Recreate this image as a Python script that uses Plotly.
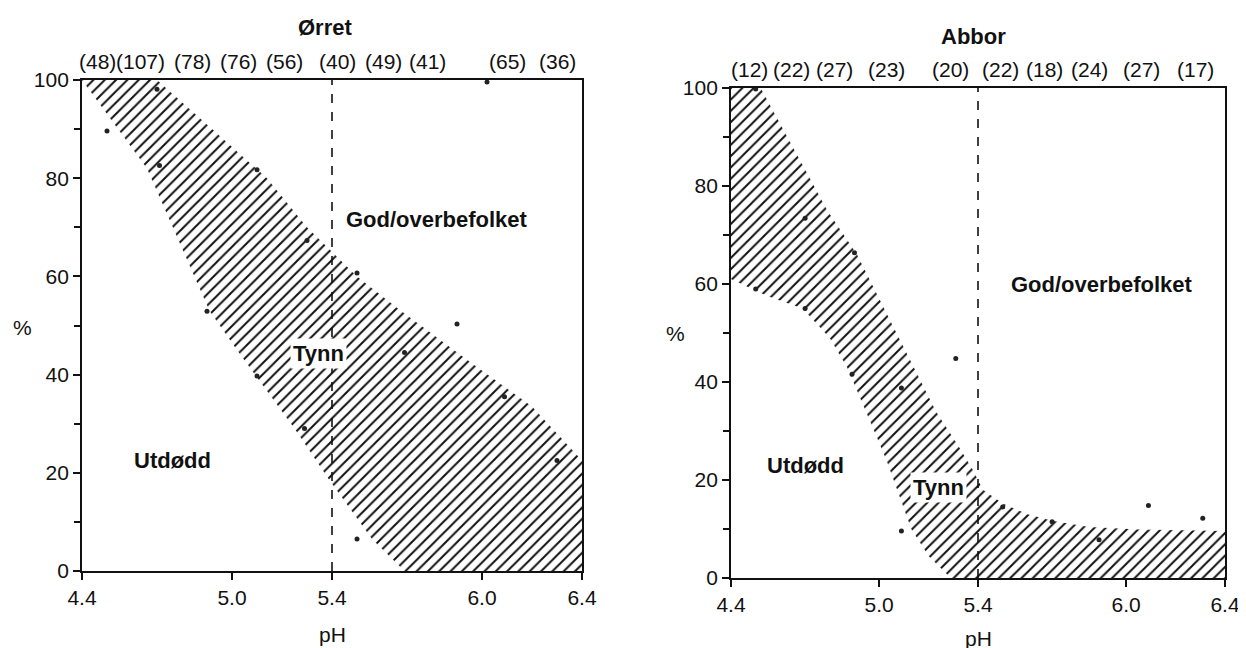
import plotly.graph_objects as go

# ---------------- data ----------------
# Ørret (trout)
trout_ph = [4.50, 4.70, 4.71, 4.90, 5.10, 5.10, 5.30, 5.29, 5.50, 5.50, 5.69, 5.90, 6.02, 6.09, 6.30]
trout_pct = [89.6, 98.1, 82.6, 52.9, 81.7, 39.7, 67.3, 29.0, 60.7, 6.5, 44.5, 50.3, 99.6, 35.5, 22.5]
trout_n = ["(48)", "(107)", "(78)", "(76)", "(56)", "(40)", "(49)", "(41)", "(65)", "(36)"]
trout_n_ph = [4.46, 4.635, 4.84, 5.025, 5.21, 5.42, 5.605, 5.78, 6.10, 6.30]
trout_upper_ph = [4.40, 4.70, 4.92, 5.14, 5.30, 5.405, 5.50, 5.67, 5.94, 6.20, 6.40]
trout_upper_pct = [100, 100, 90, 80, 70, 64.7, 60, 53.2, 43, 33.5, 22.5]
trout_lower_ph = [4.40, 4.66, 4.91, 5.02, 5.09, 5.25, 5.39, 5.56, 5.69]
trout_lower_pct = [100, 82, 53, 45, 40, 29, 18.5, 6.5, 0]

# Abbor (perch)
perch_ph = [4.50, 4.50, 4.70, 4.70, 4.90, 4.89, 5.09, 5.09, 5.31, 5.50, 5.70, 5.89, 6.09, 6.31]
perch_pct = [99.8, 59.0, 73.4, 55.0, 66.4, 41.6, 38.8, 9.6, 44.8, 14.5, 11.5, 7.8, 14.8, 12.2]
perch_n = ["(12)", "(22)", "(27)", "(23)", "(20)", "(22)", "(18)", "(24)", "(27)", "(17)"]
perch_n_ph = [4.475, 4.645, 4.82, 5.03, 5.29, 5.49, 5.67, 5.85, 6.06, 6.28]
perch_upper_ph = [4.40, 4.52, 4.79, 4.91, 5.05, 5.15, 5.23, 5.32, 5.38, 5.42, 5.50, 5.60, 5.70, 5.85, 6.05, 6.40]
perch_upper_pct = [100, 100, 75, 66, 52, 42, 34, 27, 22, 18, 15.2, 13, 11.7, 10.4, 9.9, 9.6]
perch_lower_ph = [4.40, 4.55, 4.69, 4.80, 4.87, 4.93, 4.98, 5.03, 5.08, 5.13, 5.20, 5.29]
perch_lower_pct = [61, 57.5, 55, 49, 43, 36, 30, 24, 17, 10, 4.5, 0]

x_ticks = [4.4, 5.0, 5.4, 6.0, 6.4]
x_tick_text = ["4.4", "5.0", "5.4", "6.0", "6.4"]
y_ticks = [0, 20, 40, 60, 80, 100]
y_minor = [10, 30, 50, 70, 90]
threshold_ph = 5.4

FONT = "Liberation Sans, Arial, sans-serif"
OFF = 8                      # page body margin
W, H = 1246 - OFF, 680       # figure extends a little below the visible window

def px_x(p):  # screen pixel -> paper x
    return (p - OFF) / W

def px_y(p):  # screen pixel -> paper y
    return 1 - (p - OFF) / H

fig = go.Figure()

def band(upper_x, upper_y, lower_x, lower_y, xa, ya):
    xs = list(upper_x) + [upper_x[-1], lower_x[-1]] + list(reversed(lower_x))
    ys = list(upper_y) + [0, 0] + list(reversed(lower_y))
    return go.Scatter(
        x=xs, y=ys, xaxis=xa, yaxis=ya, mode="lines", fill="toself",
        line=dict(width=0, color="rgba(0,0,0,0)"),
        fillcolor="white",
        fillpattern=dict(shape="/", size=8, solidity=0.25, fgcolor="#111", bgcolor="white"),
        hoverinfo="skip", showlegend=False,
    )

fig.add_trace(band(trout_upper_ph, trout_upper_pct, trout_lower_ph, trout_lower_pct, "x", "y"))
fig.add_trace(band(perch_upper_ph, perch_upper_pct, perch_lower_ph, perch_lower_pct, "x2", "y2"))

fig.add_trace(go.Scatter(x=trout_ph, y=trout_pct, xaxis="x", yaxis="y", mode="markers",
                         marker=dict(size=5, color="#222"), cliponaxis=False, showlegend=False))
fig.add_trace(go.Scatter(x=perch_ph, y=perch_pct, xaxis="x2", yaxis="y2", mode="markers",
                         marker=dict(size=5, color="#222"), cliponaxis=False, showlegend=False))

axis_common = dict(
    showline=True, linecolor="#111", linewidth=1.8, mirror=True, showgrid=False,
    zeroline=False, ticks="outside", ticklen=7, tickwidth=1.6, tickcolor="#111",
    automargin=False,
    tickfont=dict(family=FONT, size=21, color="#111"),
)

fig.update_layout(
    width=W, height=H,
    template="none",
    margin=dict(l=0, r=0, t=0, b=0, pad=0),
    paper_bgcolor="white", plot_bgcolor="white",
    showlegend=False,
    xaxis=dict(domain=[px_x(82), px_x(582)], range=[4.4, 6.4], tickvals=x_ticks, ticktext=x_tick_text,
               anchor="y", **axis_common),
    yaxis=dict(domain=[px_y(571), px_y(80)], range=[0, 100], tickvals=y_ticks, anchor="x",
               minor=dict(tickvals=y_minor, ticks="outside", ticklen=6, tickcolor="#111"),
               **axis_common),
    xaxis2=dict(domain=[px_x(731), px_x(1225)], range=[4.4, 6.4], tickvals=x_ticks, ticktext=x_tick_text,
                anchor="y2", **axis_common),
    yaxis2=dict(domain=[px_y(578), px_y(88)], range=[0, 100], tickvals=y_ticks, anchor="x2",
                minor=dict(tickvals=y_minor, ticks="outside", ticklen=6, tickcolor="#111"),
                **axis_common),
)

for xr, yr in (("x", "y"), ("x2", "y2")):
    fig.add_shape(type="line", xref=xr, yref=yr, x0=threshold_ph, x1=threshold_ph, y0=0, y1=100,
                  line=dict(color="#111", width=1.6, dash="dash"), layer="above")

ann = []
def txt(x, y, s, xr, yr, size=22, bold=False, bg=None, **kw):
    d = dict(x=x, y=y, xref=xr, yref=yr, text=f"<b>{s}</b>" if bold else s, showarrow=False,
             xanchor="center", yanchor="middle",
             font=dict(family=FONT, size=size, color="#111"))
    if bg:
        d.update(bgcolor=bg, borderpad=2)
    d.update(kw)
    ann.append(d)

for s, px in zip(trout_n, trout_n_ph):
    txt(px, 100, s, "x", "y", size=21, yanchor="bottom", yshift=5)
for s, px in zip(perch_n, perch_n_ph):
    txt(px, 100, s, "x2", "y2", size=21, yanchor="bottom", yshift=5)

txt(5.37, px_y(27), "Ørret", "x", "paper", size=22, bold=True)
txt(5.38, px_y(37), "Abbor", "x2", "paper", size=22, bold=True)

txt(4.76, 22.6, "Utdødd", "x", "y", size=22, bold=True)
txt(5.82, 71.5, "God/overbefolket", "x", "y", size=22, bold=True)
txt(5.345, 44.4, "Tynn", "x", "y", size=22, bold=True, bg="white")
txt(4.70, 22.9, "Utdødd", "x2", "y2", size=22, bold=True)
txt(5.90, 59.8, "God/overbefolket", "x2", "y2", size=22, bold=True)
txt(5.24, 18.4, "Tynn", "x2", "y2", size=22, bold=True, bg="white")

txt(px_x(22), px_y(327), "%", "paper", "paper", size=21)
txt(px_x(675), px_y(333), "%", "paper", "paper", size=21)
txt(5.4, px_y(634), "pH", "x", "paper", size=21)
txt(5.4, px_y(638), "pH", "x2", "paper", size=21)

fig.update_layout(annotations=ann)
fig.write_html("out.html")
